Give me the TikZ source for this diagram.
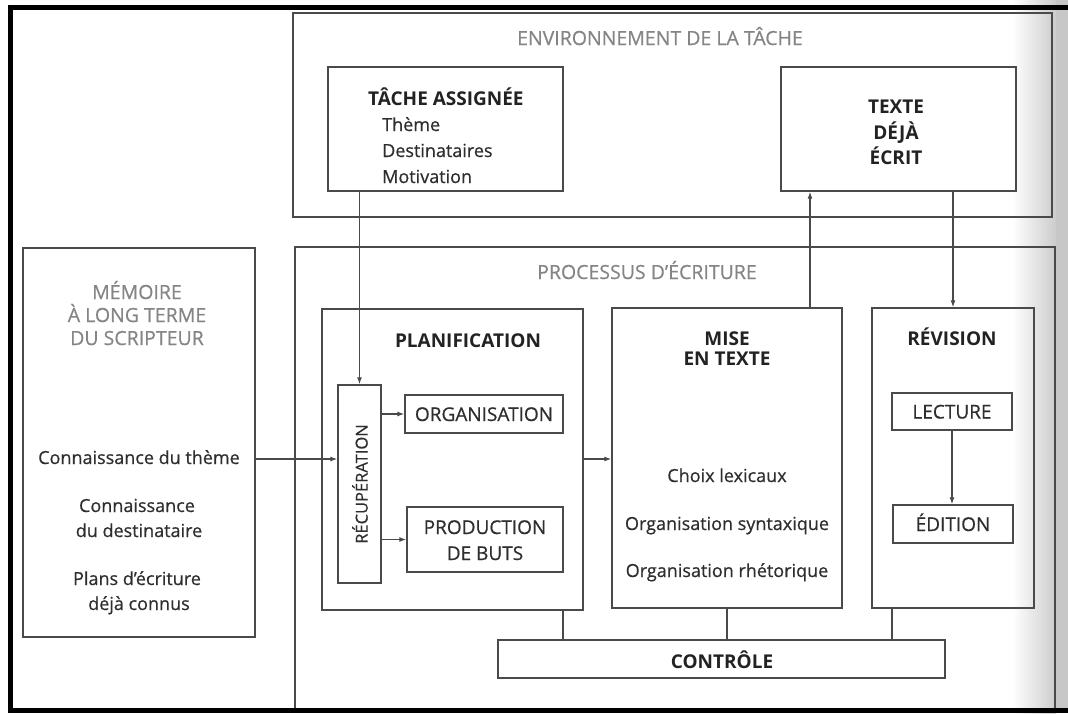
\documentclass[tikz,border=0pt]{standalone}
\usepackage{fontspec}
\setmainfont{Open Sans}
\newfontfamily\regf{Open Sans}[FakeBold=0.6]
\usetikzlibrary{arrows.meta,calc}
\definecolor{linec}{HTML}{4A4A4A}
\definecolor{txt}{HTML}{2E2E2E}
\definecolor{hdrc}{HTML}{222222}
\definecolor{gtxt}{HTML}{858585}
\newcommand{\fsn}{\regf\fontsize{18}{22}\selectfont}
\newcommand{\fsc}{\regf\fontsize{19}{22}\selectfont}
\newcommand{\fsg}{\regf\fontsize{19.5}{22}\selectfont}
\newcommand{\fsh}{\fontsize{19}{22}\selectfont\bfseries}
\tikzset{
  box/.style={draw=linec, line width=1.3pt, inner sep=0pt, fill=none},
  lbl/.style={text=txt, inner sep=0pt, font=\fsn, anchor=base, yshift=-7pt},
  lblw/.style={lbl, anchor=base west},
  caplbl/.style={lbl, font=\fsc},
  hdr/.style={lbl, text=hdrc, font=\fsh},
  hdrw/.style={hdr, anchor=base west},
  gtitle/.style={lbl, text=gtxt, font=\fsg},
  conn/.style={draw=linec, line width=1.2pt},
  arr/.style={conn, -{Latex[length=7pt,width=5pt]}},
}
\begin{document}
\begin{tikzpicture}[x=1pt,y=-1pt]
\useasboundingbox (0,0) rectangle (1068,713);
% page shadow on the right
\shade[left color=white, right color=black!20] (1012,0) rectangle (1056,713);
\fill[black!22] (1056,0) rectangle (1068,713);
% environment
\node[box, minimum width=759pt, minimum height=204pt] (env) at (672.5,115) {};
\node[gtitle] (envt) at (660,38) {ENVIRONNEMENT DE LA TÂCHE};
\node[box, minimum width=235pt, minimum height=124pt] (tache) at (445.5,129) {};
\node[hdrw] (tacheh) at (368,98) {TÂCHE ASSIGNÉE};
\node[lblw] (t1) at (382,124) {Thème};
\node[lblw] (t2) at (382,150) {Destinataires};
\node[lblw] (t3) at (382,176) {Motivation};
\node[box, minimum width=235pt, minimum height=124pt] (texte) at (898.5,129) {};
\node[hdr] (tx1) at (896,106) {TEXTE};
\node[hdr] (tx2) at (896,132) {DÉJÀ};
\node[hdr] (tx3) at (896,157) {ÉCRIT};
% processus
\draw[linec, line width=1.3pt] (295,713) -- (295,247) -- (1055,247) -- (1055,713);
\node[gtitle] (proct) at (647,272) {PROCESSUS D’ÉCRITURE};
% memoire
\node[box, minimum width=232pt, minimum height=389pt] (mem) at (139,442.5) {};
\node[gtitle] (m1) at (137,292) {MÉMOIRE};
\node[gtitle] (m2) at (137,315) {À LONG TERME};
\node[gtitle] (m3) at (137,338) {DU SCRIPTEUR};
\node[lbl] (k1) at (139,457) {Connaissance du thème};
\node[lbl] (k2) at (137,505) {Connaissance};
\node[lbl] (k3) at (139,530) {du destinataire};
\node[lbl] (k4) at (137,578) {Plans d’écriture};
\node[lbl] (k5) at (139,603) {déjà connus};
% planification
\node[box, minimum width=261pt, minimum height=301pt] (plan) at (452.5,459.5) {};
\node[hdr] (planh) at (468,340) {PLANIFICATION};
\node[box, minimum width=43pt, minimum height=198pt] (recup) at (359.5,484) {};
\node[text=txt, inner sep=0pt, font=\regf\fontsize{16.5}{20}\selectfont, rotate=90] (recupt) at (360,484) {RÉCUPÉRATION};
\node[box, minimum width=158pt, minimum height=38pt] (org) at (484,414) {};
\node[caplbl] (orgt) at (484,414) {ORGANISATION};
\node[box, minimum width=156pt, minimum height=65pt] (prod) at (485,539.5) {};
\node[caplbl] (p1) at (485,527) {PRODUCTION};
\node[caplbl] (p2) at (485,553) {DE BUTS};
% mise en texte
\node[box, minimum width=230pt, minimum height=300pt] (mise) at (727,458) {};
\node[hdr] (mi1) at (727,338) {MISE};
\node[hdr] (mi2) at (727,358) {EN TEXTE};
\node[lbl] (c1) at (727,475) {Choix lexicaux};
\node[lbl] (c2) at (727,523) {Organisation syntaxique};
\node[lbl] (c3) at (727,570) {Organisation rhétorique};
% revision
\node[box, minimum width=162pt, minimum height=300pt] (rev) at (953,458) {};
\node[hdr] (revh) at (952,338) {RÉVISION};
\node[box, minimum width=120pt, minimum height=37pt] (lect) at (952,411.5) {};
\node[caplbl] (lectt) at (952,411.5) {LECTURE};
\node[box, minimum width=120pt, minimum height=38pt] (edit) at (953,524) {};
\node[caplbl] (editt) at (953,524) {ÉDITION};
% controle
\node[box, minimum width=447pt, minimum height=38pt] (ctrl) at (721.5,659) {};
\node[hdr] (ctrlt) at (722,661) {CONTRÔLE};
% connectors
\coordinate (ythm) at (0,459);
\coordinate (xm) at (810,0);
\coordinate (xp) at (563,0);
\coordinate (xr) at (892,0);
\draw[arr] (recup.north |- tache.south) -- (recup.north);
\draw[arr] (xm |- mise.north) -- (xm |- texte.south);
\draw[arr] (rev.north |- texte.south) -- (rev.north);
\draw[arr] (mem.east |- ythm) -- (recup.west |- ythm);
\draw[arr] (recup.east |- org.west) -- (org.west);
\draw[arr] (recup.east |- prod.west) -- (prod.west);
\draw[arr] (plan.east |- ythm) -- (mise.west |- ythm);
\draw[arr] (lect.south) -- (lect.south |- edit.north);
\draw[conn] (xp |- plan.south) -- (xp |- ctrl.north);
\draw[conn] (mise.south) -- (mise.south |- ctrl.north);
\draw[conn] (xr |- rev.south) -- (xr |- ctrl.north);
% black frame
\fill[black] (8,5) rectangle (1068,10);
\fill[black] (8,5) rectangle (13,713);
\fill[black] (8,708) rectangle (1068,713);
\end{tikzpicture}
\end{document}
